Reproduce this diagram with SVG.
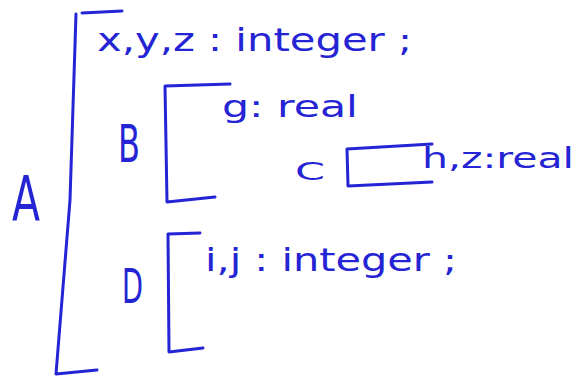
<svg xmlns="http://www.w3.org/2000/svg" width="576" height="379" viewBox="0 0 576 379">
<style>
.ink{fill:none;stroke:#2424d4;stroke-width:3;stroke-linecap:round;stroke-linejoin:round}
.t{fill:#2424d4;font-family:"DejaVu Sans","Noto Sans",sans-serif}
</style>
<rect width="576" height="379" fill="#ffffff"/>
<g id="A">
<path class="ink" d="M82,13 L122,11 M76,14 L70,200 L56,374 L97,370"/>
<text class="t" x="12" y="221" font-size="62" textLength="28" lengthAdjust="spacingAndGlyphs">A</text>
<text class="t" x="97" y="51" font-size="32" textLength="315" lengthAdjust="spacingAndGlyphs">x,y,z : integer ;</text>
</g>
<g id="B">
<path class="ink" d="M230,84 L165,86 L167,202 L215,197"/>
<text class="t" x="118" y="162" font-size="52" textLength="22" lengthAdjust="spacingAndGlyphs">B</text>
<text class="t" x="222" y="117" font-size="30" textLength="136" lengthAdjust="spacingAndGlyphs">g: real</text>
</g>
<g id="C">
<path class="ink" d="M432,144 L347,149 L348,186 L432,182"/>
<text class="t" x="295" y="180" font-size="25" textLength="30" lengthAdjust="spacingAndGlyphs">C</text>
<text class="t" x="422" y="168" font-size="28" textLength="152" lengthAdjust="spacingAndGlyphs">h,z:real</text>
</g>
<g id="D">
<path class="ink" d="M200,233 L168,234 L169,352 L203,348"/>
<text class="t" x="122" y="303" font-size="48" textLength="21" lengthAdjust="spacingAndGlyphs">D</text>
<text class="t" x="205" y="271" font-size="32" textLength="252" lengthAdjust="spacingAndGlyphs">i,j : integer ;</text>
</g>
<g id="connectors"/>
</svg>
